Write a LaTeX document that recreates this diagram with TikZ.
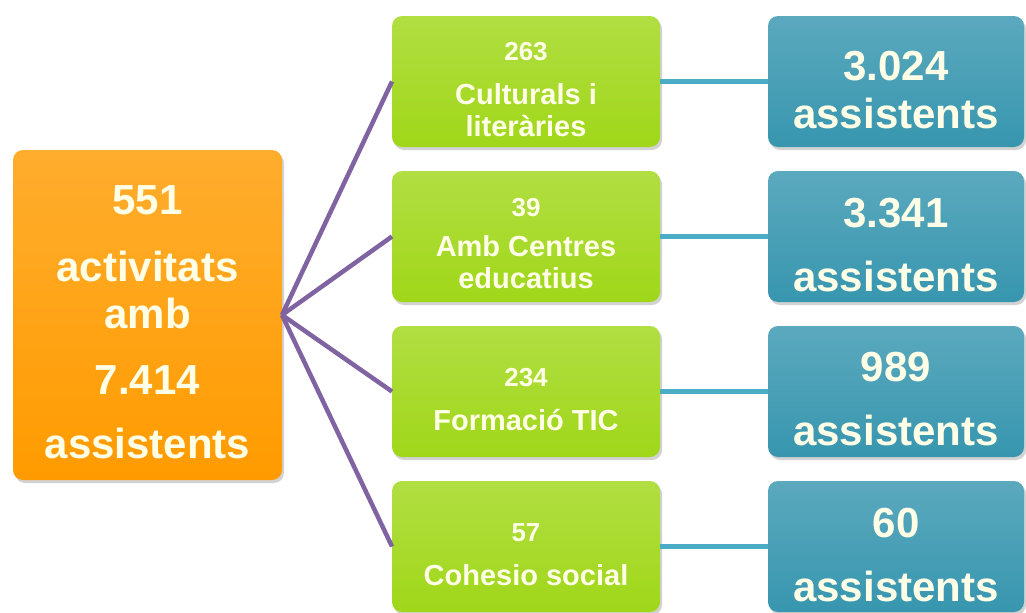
\documentclass[tikz,border=0pt]{standalone}
\usepackage{fontspec}
\setmainfont{Liberation Sans}
\usetikzlibrary{positioning, shadows}

\definecolor{taronja}{RGB}{255,155,0}
\definecolor{verd}{RGB}{160,215,25}
\definecolor{blau}{RGB}{55,150,175}
\definecolor{lila}{RGB}{128,100,162}
\definecolor{cian}{RGB}{75,172,198}
\definecolor{lletra}{RGB}{255,255,232}

% aire a sobre de la primera linia
\newcommand{\aire}[1]{\rule{0pt}{#1}}

\begin{document}
\begin{tikzpicture}[
    caixa/.style={rectangle, rounded corners=10pt, inner sep=0pt, outer sep=0pt,
        align=center, text=lletra,
        drop shadow={shadow xshift=2pt, shadow yshift=-3pt, opacity=0.35}},
    total/.style={caixa, minimum width=269pt, minimum height=330pt,
        font=\bfseries\fontsize{42}{47}\selectfont,
        top color=taronja!82!white, middle color=taronja, bottom color=taronja},
    tipus/.style={caixa, minimum width=268pt, minimum height=131pt,
        font=\bfseries\fontsize{29}{32}\selectfont,
        top color=verd!82!white, middle color=verd, bottom color=verd},
    public/.style={caixa, minimum width=256pt, minimum height=131pt,
        font=\bfseries\fontsize{42}{48}\selectfont,
        top color=blau!82!white, middle color=blau, bottom color=blau},
    branca/.style={lila, line width=4.5pt},
    enllac/.style={cian, line width=4.5pt}
]
\useasboundingbox (0,0) rectangle (1026pt,-613pt);
\fill[white] (0,0) rectangle (1026pt,-613pt);

\node[total] (tot) at (147.5pt,-315pt)
    {\aire{44pt}551\\[20pt] activitats\\ amb\\[19pt] 7.414\\[17pt] assistents};

\node[tipus] (t1) at (526pt,-81.5pt)
    {\aire{35pt}{\fontsize{26}{26}\selectfont 263}\\[12pt] Culturals i\\ literàries};
\node[tipus, below=24pt of t1] (t2)
    {\aire{32pt}{\fontsize{26}{26}\selectfont 39}\\[8pt] Amb Centres\\ educatius};
\node[tipus, below=24pt of t2] (t3)
    {\aire{35pt}{\fontsize{26}{26}\selectfont 234}\\[12pt] Formació TIC};
\node[tipus, below=24pt of t3] (t4)
    {\aire{35pt}{\fontsize{26}{26}\selectfont 57}\\[12pt] Cohesio social};

\node[public, right=108pt of t1] (a1) {\aire{46pt}3.024\\ assistents};
\node[public, right=108pt of t2] (a2) {\aire{46pt}3.341\\[16pt] assistents};
\node[public, right=108pt of t3] (a3) {\aire{45pt}989\\[16pt] assistents};
\node[public, right=108pt of t4] (a4) {\aire{46pt}60\\[16pt] assistents};

\draw[branca] (tot.east) -- (t1.west);
\draw[branca] (tot.east) -- (t2.west);
\draw[branca] (tot.east) -- (t3.west);
\draw[branca] (tot.east) -- (t4.west);

\draw[enllac] (t1.east) -- (a1.west);
\draw[enllac] (t2.east) -- (a2.west);
\draw[enllac] (t3.east) -- (a3.west);
\draw[enllac] (t4.east) -- (a4.west);
\end{tikzpicture}
\end{document}
